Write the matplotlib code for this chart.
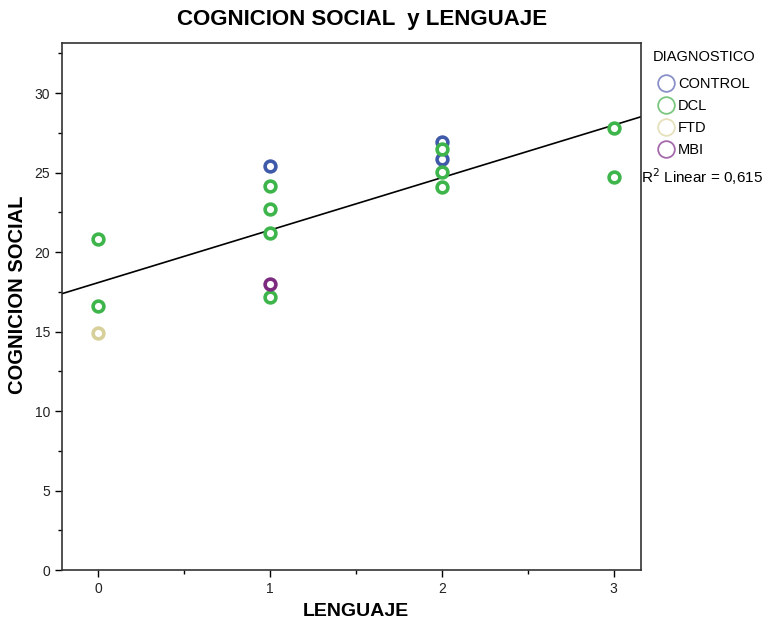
import numpy as np
import matplotlib
matplotlib.use("Agg")
import matplotlib.pyplot as plt
from matplotlib.lines import Line2D
from matplotlib.ticker import MultipleLocator

plt.rcParams['font.family'] = ['Liberation Sans', 'DejaVu Sans']

groups = ["CONTROL", "DCL", "FTD", "MBI"]
colors = {"CONTROL": "#3f5aa8", "DCL": "#3db54a", "FTD": "#d8d09a", "MBI": "#7d2b80"}
legend_colors = {"CONTROL": "#8a90c8", "DCL": "#7cc77f", "FTD": "#e6e0bb", "MBI": "#a46aaa"}

lenguaje = [0, 0, 0, 1, 1, 1, 1, 1, 1, 2, 2, 2, 2, 2, 3, 3]
cognicion = [20.8, 16.6, 14.9, 25.4, 24.15, 22.7, 21.2, 18.0, 17.2, 26.9, 26.5, 25.85, 25.05, 24.1, 27.8, 24.7]
diagnostico = ["DCL", "DCL", "FTD", "CONTROL", "DCL", "DCL", "DCL", "MBI", "DCL",
               "CONTROL", "DCL", "CONTROL", "DCL", "DCL", "DCL", "DCL"]
r2_text = "0,615"

fig = plt.figure(figsize=(7.62, 6.28), dpi=100)
ax = fig.add_axes([62/762, 1 - 570/628, (641 - 62)/762, (570 - 43)/628])

x = np.array(lenguaje, dtype=float)
y = np.array(cognicion, dtype=float)
xlim = (-0.21, 3.16)
ylim = (0, 33.15)

slope, intercept = np.polyfit(x, y, 1)
xx = np.array(xlim)
ax.plot(xx, intercept + slope * xx, color="black", lw=1.2, zorder=2)

for g in groups:
    idx = [i for i, d in enumerate(diagnostico) if d == g]
    ax.scatter(x[idx], y[idx], s=60, facecolors="white", edgecolors=colors[g],
               linewidths=2.6, zorder=3)

ax.set_xlim(*xlim)
ax.set_ylim(*ylim)
ax.set_xticks([0, 1, 2, 3])
ax.set_yticks([0, 5, 10, 15, 20, 25, 30])
ax.xaxis.set_minor_locator(MultipleLocator(0.5))
ax.yaxis.set_minor_locator(MultipleLocator(2.5))
ax.tick_params(which="both", direction="out", length=5, width=1, labelsize=10,
               labelcolor="#222222")
ax.tick_params(which="minor", length=3)
for s in ax.spines.values():
    s.set_linewidth(1.2)
    s.set_color("#333333")

fig.text(356/762, 1 - 612/628, "LENGUAJE", fontsize=14, fontweight="bold",
         ha="center", va="center")
fig.text(18/762, 1 - 295/628, "COGNICION SOCIAL", fontsize=14.5, fontweight="bold",
         ha="center", va="center", rotation=90)
fig.text(362/762, 1 - 20/628, "COGNICION SOCIAL  y LENGUAJE", fontsize=16,
         fontweight="bold", ha="center", va="center")

# legend
fig.text(653/762, 1 - 57/628, "DIAGNOSTICO", fontsize=10.5, ha="left", va="center")
handles = [Line2D([], [], marker="o", linestyle="none", markersize=12,
                  markerfacecolor="none", markeredgecolor=legend_colors[g],
                  markeredgewidth=1.3) for g in groups]
fig.legend(handles, groups, loc="upper left", bbox_to_anchor=(657/762, 1 - 77/628),
           frameon=False, fontsize=10.5, handletextpad=0.15, labelspacing=0.55,
           handlelength=1.3, borderpad=0, borderaxespad=0)

fig.text(641/762, 1 - 177/628, "R$^2$ Linear = " + r2_text, fontsize=11,
         ha="left", va="center")

fig.savefig("out.png", dpi=100)
